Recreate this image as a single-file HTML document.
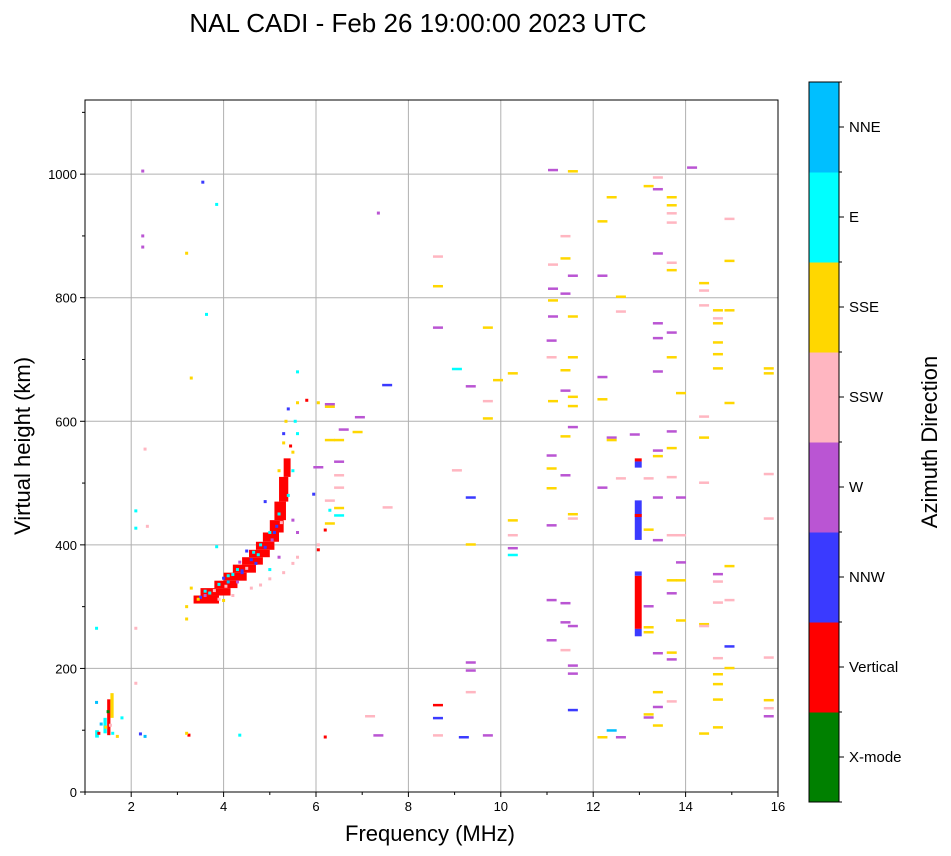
<!DOCTYPE html>
<html><head><meta charset="utf-8"><style>
body{margin:0;background:#fff;}
svg{display:block;font-family:"Liberation Sans","DejaVu Sans",sans-serif;}
</style></head><body>
<svg id="chart" width="951" height="856">
<text x="418" y="32" font-size="26" text-anchor="middle">NAL CADI - Feb 26 19:00:00 2023 UTC</text>
<g id="grid"></g>
<g id="marks"></g>
<rect x="85" y="100" width="693" height="692" fill="none" stroke="#000" stroke-width="1"/>
<g id="axes"></g>
<text x="430" y="841" font-size="22" text-anchor="middle">Frequency (MHz)</text>
<text transform="translate(30,446) rotate(-90)" font-size="22" text-anchor="middle">Virtual height (km)</text>
<g id="cbar"></g>
<text transform="translate(937,442) rotate(-90)" font-size="22" text-anchor="middle">Azimuth Direction</text>
</svg>
<script>
const colorNames=["X-mode","Vertical","NNW","W","SSW","SSE","E","NNE"];
const colorVals=["#008000","#ff0000","#3a3aff","#ba55d3","#ffb6c1","#ffd700","#00ffff","#00bfff"];
const xTicks=[2,4,6,8,10,12,14,16];
const yTicks=[0,200,400,600,800,1000];
// blocks: freq lo/hi, height lo/hi, color
const bF0=[3.35,3.5,3.8,4.0,4.2,4.4,4.55,4.7,4.85,5.0,5.1,5.2,5.3,12.9,12.9,12.9,12.9,12.9,12.9,12.9,1.48,1.4,1.55,1.22];
const bF1=[3.9,4.15,4.3,4.5,4.7,4.85,5.0,5.1,5.2,5.3,5.35,5.4,5.45,13.05,13.05,13.05,13.05,13.05,13.05,13.05,1.55,1.47,1.62,1.3];
const bH0=[305,318,330,342,355,368,380,392,405,420,440,470,510,525,535,408,445,264,350,252,92,95,120,88];
const bH1=[318,330,342,355,368,380,392,405,420,440,470,510,540,535,540,472,450,350,357,264,150,120,160,100];
const bC=[1,1,1,1,1,1,1,1,1,1,1,1,1,2,1,2,1,1,2,2,1,6,5,6];
// single cells
const cF=[4.6,4.8,5.0,5.3,5.5,5.6,4.2,3.9,4.1,4.3,3.6,4.8,5.0,5.2,5.4,5.5,5.6,5.55,5.6,4.5,4.4,5.1,5.4,5.3,3.5,4.7,5.6,5.2,5.3,5.5,3.2,3.2,3.3,4.0,4.3,5.5,5.6,5.2,3.55,3.85,3.63,2.25,2.25,2.25,3.2,3.3,2.3,2.1,2.1,2.35,2.1,2.1,1.25,3.85,1.25,1.3,1.45,1.6,1.7,1.8,2.2,2.3,3.25,3.2,4.35,6.2,5.8,6.05,6.2,6.05,5.95,6.3,6.05,7.35,1.35,1.55,1.5,5.0,4.9,5.35,5.45,3.7,3.9,4.2,4.0,4.6,4.9,3.6,4.1,4.5,4.75,5.05,5.25,3.45,3.8,4.4,4.65,5.15,4.35,4.05];
const cH=[330,335,345,355,370,380,318,312,350,360,325,400,420,450,480,520,580,600,680,390,355,420,620,580,315,370,630,520,565,550,300,280,330,310,340,440,420,380,987,951,773,900,882,1005,872,670,555,455,427,430,265,176,265,397,145,95,105,95,90,120,94,90,92,95,92,89,634,630,424,392,482,456,400,937,110,108,130,360,470,600,560,322,336,352,346,376,396,318,340,362,384,408,436,312,326,358,388,430,372,333];
const cC=[4,4,4,4,4,4,4,4,6,6,6,6,6,6,6,6,6,6,6,2,2,2,2,2,2,2,5,5,5,5,5,5,5,5,3,3,3,3,2,6,6,3,3,3,5,5,4,6,6,4,4,4,6,6,7,1,5,6,5,6,2,7,1,5,6,1,1,5,1,1,2,6,4,3,7,4,0,6,2,5,1,6,6,6,2,2,2,3,7,4,6,3,4,5,4,2,6,2,3,4];
// dashes
const dF=[11.13,11.56,14.14,13.4,13.4,13.2,13.7,13.7,13.7,13.7,12.4,12.2,14.95,11.4,11.4,11.13,11.56,12.2,13.4,13.7,13.7,14.95,8.64,8.64,11.13,11.4,11.13,11.56,11.13,14.4,14.4,14.4,14.7,14.7,14.7,14.95,12.6,12.6,13.4,13.7,13.4,8.64,9.72,11.1,11.1,11.56,14.7,14.7,14.7,13.7,13.4,12.2,11.4,11.4,15.8,15.8,9.05,9.94,10.26,7.54,9.35,11.56,12.2,13.9,14.4,14.4,14.95,9.72,9.72,11.56,11.13,11.56,11.4,12.4,12.4,13.7,13.7,13.4,13.4,12.9,11.1,11.1,11.4,9.05,11.1,12.2,12.6,13.2,13.7,13.9,14.4,13.4,13.2,13.4,13.7,13.9,9.35,11.1,11.56,11.56,10.26,10.26,10.26,10.26,9.35,13.9,13.7,13.9,14.7,14.7,14.95,13.7,14.95,14.7,11.1,11.4,13.2,13.2,13.2,11.4,11.56,11.1,11.4,13.9,14.4,14.4,14.95,13.4,13.7,13.7,9.35,9.35,11.56,11.56,14.7,14.95,15.8,14.7,14.7,13.4,9.35,13.7,14.7,15.8,15.8,15.8,13.4,13.2,13.2,13.4,14.7,14.4,12.4,12.2,12.6,11.56,8.64,8.64,8.64,9.2,9.72,7.35,7.17,6.3,6.3,6.6,6.5,6.3,6.5,6.5,6.5,6.05,6.5,6.5,6.3,6.3,6.9,6.95,7.55,15.8,15.8];
const dH=[1007,1005,1011,995,976,981,963,950,937,922,963,924,928,900,864,854,836,836,872,857,845,860,867,819,815,807,796,770,770,824,812,788,780,759,767,780,802,778,759,744,735,752,752,731,704,704,728,709,686,704,681,672,683,650,686,678,685,667,678,659,657,640,636,646,608,574,630,633,605,625,633,591,576,574,570,584,557,553,544,579,545,524,513,521,432,493,508,508,510,477,501,477,425,408,416,416,477,492,450,443,440,416,395,384,401,372,343,343,353,341,366,322,311,307,311,306,301,267,259,275,269,246,230,278,272,269,236,225,226,215,210,197,205,192,217,201,218,191,175,162,162,147,150,149,136,123,138,126,121,108,105,95,100,89,89,133,141,120,92,89,92,92,123,628,624,587,570,570,535,513,493,526,460,448,472,435,583,607,461,515,443];
const dC=[3,5,3,4,3,5,5,5,4,4,5,5,4,4,5,4,3,3,3,4,5,5,4,5,3,3,5,5,3,5,4,4,5,5,4,5,5,4,3,3,3,3,5,3,4,5,5,5,5,5,3,3,5,3,5,5,6,5,5,2,3,5,5,5,4,5,5,4,5,5,5,3,5,3,5,3,5,3,5,3,3,5,3,4,3,3,4,4,4,3,4,3,5,3,4,4,2,5,5,4,5,4,3,6,5,3,5,5,3,4,5,3,4,4,3,3,3,5,5,3,3,3,4,5,5,4,2,3,5,3,3,3,3,3,4,5,4,5,5,5,4,4,5,5,4,3,3,5,3,5,5,5,7,5,3,2,1,2,4,2,3,3,4,3,5,3,5,5,3,4,4,3,5,6,4,5,5,3,4,4,4];

const NS="http://www.w3.org/2000/svg";
const X0=85,X1=778,Y0=792,Y1=100,FMIN=1,FMAX=16,HMAX=1120;
function xs(f){return X0+(f-FMIN)/(FMAX-FMIN)*(X1-X0);}
function ys(h){return Y0-h/HMAX*(Y0-Y1);}
function mk(tag,attrs,parent){const e=document.createElementNS(NS,tag);for(const k in attrs)e.setAttribute(k,attrs[k]);parent.appendChild(e);return e;}
const grid=document.getElementById('grid'),marks=document.getElementById('marks'),axes=document.getElementById('axes'),cbar=document.getElementById('cbar');
xTicks.forEach(t=>{const x=xs(t);
 const g=mk('line',{x1:x,x2:x,y1:Y1,y2:Y0,stroke:'#b0b0b0','stroke-width':1},grid);
 
 
 const tk=mk('line',{x1:x,x2:x,y1:Y0,y2:Y0+5,stroke:'#000'},axes);
 
 
 const tl=mk('text',{x:x,y:Y0+19,'font-size':13,'text-anchor':'middle'},axes);tl.textContent=t;
 
 
});
for(let m=1;m<=15;m+=2){const x=xs(m);if(m<FMIN)continue;const tk=mk('line',{x1:x,x2:x,y1:Y0,y2:Y0+3,stroke:'#000'},axes);
 
 }
yTicks.forEach(t=>{const y=ys(t);
 const g=mk('line',{x1:X0,x2:X1,y1:y,y2:y,stroke:'#b0b0b0','stroke-width':1},grid);
 
 
 const tk=mk('line',{x1:X0-5,x2:X0,y1:y,y2:y,stroke:'#000'},axes);
 
 
 const tl=mk('text',{x:X0-8,y:y+5,'font-size':13,'text-anchor':'end'},axes);tl.textContent=t;
 
 
});
for(let m=100;m<HMAX;m+=200){const y=ys(m);const tk=mk('line',{x1:X0-3,x2:X0,y1:y,y2:y,stroke:'#000'},axes);
 
 }
for(let i=0;i<bF0.length;i++){
 const x=xs(bF0[i]),y=ys(bH1[i]);
 const r=mk('rect',{x:x,y:y,width:Math.max(2,xs(bF1[i])-x),height:Math.max(2,ys(bH0[i])-y),fill:colorVals[bC[i]]},marks);
 
 
}
for(let i=0;i<cF.length;i++){
 const r=mk('rect',{x:xs(cF[i])-1.5,y:ys(cH[i])-1.5,width:3,height:3,fill:colorVals[cC[i]]},marks);
 
 
}
for(let i=0;i<dF.length;i++){
 const r=mk('rect',{x:xs(dF[i])-5,y:ys(dH[i])-1,width:10,height:2.5,fill:colorVals[dC[i]]},marks);
 
 
}
// colorbar
const CX=809,CW=30,CT=82,CB=802,seg=(CB-CT)/colorNames.length;
colorNames.forEach((n,i)=>{
 const y=CB-(i+1)*seg;
 const r=mk('rect',{x:CX,y:y,width:CW,height:seg+0.5,fill:colorVals[i]},cbar);
 
 
 const tk=mk('line',{x1:CX+CW,x2:CX+CW+5,y1:y+seg/2,y2:y+seg/2,stroke:'#000'},cbar);
 
 
 const t=mk('text',{x:CX+CW+10,y:y+seg/2+5,'font-size':15},cbar);t.textContent=n;
 
 
});
for(let i=0;i<=colorNames.length;i++){const y=CT+i*seg;const tk=mk('line',{x1:CX+CW,x2:CX+CW+3,y1:y,y2:y,stroke:'#000'},cbar);
 
 }
const fr=mk('rect',{x:CX,y:CT,width:CW,height:CB-CT,fill:'none',stroke:'#000'},cbar);


</script>
</body></html>
